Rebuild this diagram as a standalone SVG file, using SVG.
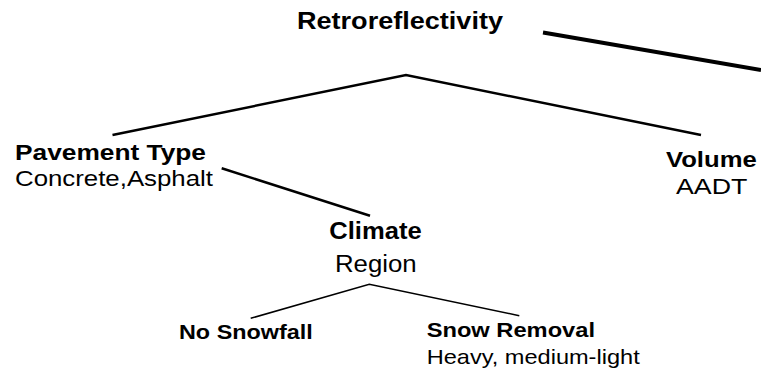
<svg xmlns="http://www.w3.org/2000/svg" width="761" height="375" viewBox="0 0 761 375">
<style>
text { font-family: "Liberation Sans", Arial, sans-serif; fill: #000; }
.b { font-weight: bold; }
.con { fill: none; stroke: #000; stroke-linecap: butt; stroke-linejoin: miter; }
</style>
<rect width="761" height="375" fill="#fff"/>
<g id="connectors">
  <line class="con" x1="543" y1="32.5" x2="761" y2="70" stroke-width="4"/>
  <polyline class="con" points="112.5,135 406,75 701,135" stroke-width="2.5"/>
  <line class="con" x1="221.7" y1="168.3" x2="370" y2="215.7" stroke-width="2.5"/>
  <polyline class="con" points="250.7,318.3 369.3,284.3 519.3,315.7" stroke-width="1.5"/>
</g>
<g id="retroreflectivity">
  <text class="b" x="297" y="28.5" font-size="23.5" textLength="206" lengthAdjust="spacingAndGlyphs">Retroreflectivity</text>
</g>
<g id="pavement-type">
  <text class="b" x="15" y="160" font-size="22.5" textLength="191" lengthAdjust="spacingAndGlyphs">Pavement Type</text>
  <text x="15" y="186" font-size="22.5" textLength="198" lengthAdjust="spacingAndGlyphs">Concrete,Asphalt</text>
</g>
<g id="volume">
  <text class="b" x="666" y="167" font-size="22.5" textLength="90.7" lengthAdjust="spacingAndGlyphs">Volume</text>
  <text x="676" y="194" font-size="22.5" textLength="71.3" lengthAdjust="spacingAndGlyphs">AADT</text>
</g>
<g id="climate">
  <text class="b" x="329.3" y="239" font-size="23" textLength="92.4" lengthAdjust="spacingAndGlyphs">Climate</text>
  <text x="335" y="271.5" font-size="23" textLength="81.7" lengthAdjust="spacingAndGlyphs">Region</text>
</g>
<g id="no-snowfall">
  <text class="b" x="179" y="339" font-size="21" textLength="133.7" lengthAdjust="spacingAndGlyphs">No Snowfall</text>
</g>
<g id="snow-removal">
  <text class="b" x="426.7" y="337" font-size="21" textLength="168.3" lengthAdjust="spacingAndGlyphs">Snow Removal</text>
  <text x="426.7" y="363.5" font-size="21" textLength="213" lengthAdjust="spacingAndGlyphs">Heavy, medium-light</text>
</g>
</svg>
